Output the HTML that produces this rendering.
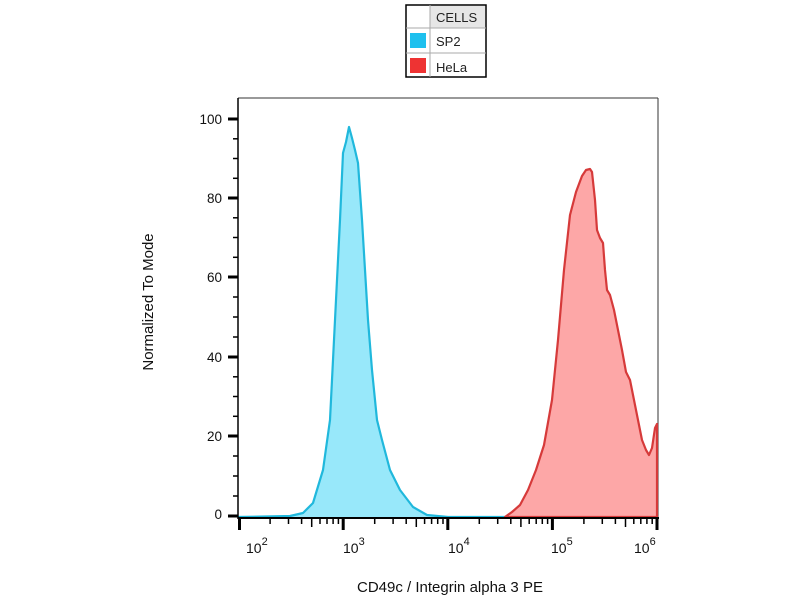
<!DOCTYPE html>
<html><head><meta charset="utf-8"><style>
body{margin:0;background:#fff;}
svg{display:block;font-family:"Liberation Sans",Arial,sans-serif;}
</style></head><body>
<svg width="800" height="600" viewBox="0 0 800 600">
<rect width="800" height="600" fill="#fff"/>
<!-- legend -->
<rect x="406" y="5" width="80" height="72" fill="#fff" stroke="#000" stroke-width="1.5"/>
<rect x="430" y="6" width="55" height="22" fill="#e6e6e6"/>
<line x1="430" y1="5" x2="430" y2="77" stroke="#aaa"/>
<line x1="406" y1="28" x2="486" y2="28" stroke="#aaa"/>
<line x1="406" y1="53" x2="486" y2="53" stroke="#aaa"/>
<text x="436" y="22" font-size="13" fill="#222">CELLS</text>
<rect x="410" y="33" width="16" height="15" fill="#1ec0ee"/>
<text x="436" y="46" font-size="13" fill="#222">SP2</text>
<rect x="410" y="58" width="16" height="15" fill="#ee3333"/>
<text x="436" y="72" font-size="13" fill="#222">HeLa</text>

<!-- plot box -->
<line x1="238" y1="98" x2="658" y2="98" stroke="#333" stroke-width="1"/>
<line x1="658" y1="98" x2="658" y2="518" stroke="#333" stroke-width="1"/>

<!-- blue -->
<path d="M238,517 L290,516 L303,513 L313,503 L323,470 L330,420 L335,320 L340,220 L343,153 L346,142 L349,127 L352,138 L355,150 L358,163 L362,220 L365,270 L368,320 L372,370 L377,420 L382,440 L390,470 L400,490 L413,507 L427,515 L448,517 L658,517 Z" fill="#98e8fa" stroke="none"/>
<path d="M238,517 L290,516 L303,513 L313,503 L323,470 L330,420 L335,320 L340,220 L343,153 L346,142 L349,127 L352,138 L355,150 L358,163 L362,220 L365,270 L368,320 L372,370 L377,420 L382,440 L390,470 L400,490 L413,507 L427,515 L448,517 L505,517" fill="none" stroke="#20b8dc" stroke-width="2.2" stroke-linejoin="round"/>
<!-- red -->
<path d="M505,517 L512,512 L520,505 L528,490 L536,470 L544,445 L552,400 L558,340 L564,270 L570,215 L576,192 L582,176 L586,170 L590,169 L592,172 L595,200 L597,230 L600,238 L603,243 L605,270 L607,290 L610,295 L614,310 L618,330 L622,350 L626,372 L630,380 L634,400 L638,420 L642,440 L646,450 L649,455 L652,448 L655,428 L657,424 L657,517 Z" fill="#fda7a7" stroke="#d63a3a" stroke-width="2.2" stroke-linejoin="round"/>

<!-- axes -->
<line x1="238" y1="98" x2="238" y2="519" stroke="#000" stroke-width="1.5"/>
<line x1="238" y1="518" x2="659" y2="518" stroke="#000" stroke-width="2"/>
<g stroke="#000" stroke-width="3">
<line x1="228" y1="119" x2="238" y2="119"/><line x1="228" y1="198" x2="238" y2="198"/><line x1="228" y1="277" x2="238" y2="277"/><line x1="228" y1="357" x2="238" y2="357"/><line x1="228" y1="436" x2="238" y2="436"/><line x1="228" y1="516" x2="238" y2="516"/>
</g>
<g stroke="#000" stroke-width="1.5">
<line x1="233" y1="138.8" x2="238" y2="138.8"/><line x1="233" y1="158.5" x2="238" y2="158.5"/><line x1="233" y1="178.3" x2="238" y2="178.3"/>
<line x1="233" y1="217.8" x2="238" y2="217.8"/><line x1="233" y1="237.5" x2="238" y2="237.5"/><line x1="233" y1="257.3" x2="238" y2="257.3"/>
<line x1="233" y1="297" x2="238" y2="297"/><line x1="233" y1="317" x2="238" y2="317"/><line x1="233" y1="337" x2="238" y2="337"/>
<line x1="233" y1="376.8" x2="238" y2="376.8"/><line x1="233" y1="396.5" x2="238" y2="396.5"/><line x1="233" y1="416.3" x2="238" y2="416.3"/>
<line x1="233" y1="456" x2="238" y2="456"/><line x1="233" y1="476" x2="238" y2="476"/><line x1="233" y1="496" x2="238" y2="496"/>
</g>
<g font-size="13.5" fill="#111" text-anchor="end">
<text x="222" y="124">100</text><text x="222" y="203">80</text><text x="222" y="282">60</text><text x="222" y="362">40</text><text x="222" y="441">20</text><text x="222" y="519">0</text>
</g>
<!-- x ticks major -->
<g stroke="#000" stroke-width="3">
<line x1="239.5" y1="518" x2="239.5" y2="530"/><line x1="343.2" y1="518" x2="343.2" y2="530"/><line x1="447.8" y1="518" x2="447.8" y2="530"/><line x1="552.4" y1="518" x2="552.4" y2="530"/><line x1="657" y1="518" x2="657" y2="530"/>
</g>
<g stroke="#000" stroke-width="1.5">
<line x1="270.1" y1="518" x2="270.1" y2="524"/><line x1="288.5" y1="518" x2="288.5" y2="524"/><line x1="301.6" y1="518" x2="301.6" y2="524"/><line x1="311.7" y1="518" x2="311.7" y2="527"/><line x1="320" y1="518" x2="320" y2="524"/><line x1="327" y1="518" x2="327" y2="524"/><line x1="333.1" y1="518" x2="333.1" y2="524"/><line x1="338.4" y1="518" x2="338.4" y2="524"/>
<line x1="374.7" y1="518" x2="374.7" y2="524"/><line x1="393.1" y1="518" x2="393.1" y2="524"/><line x1="406.2" y1="518" x2="406.2" y2="524"/><line x1="416.3" y1="518" x2="416.3" y2="527"/><line x1="424.6" y1="518" x2="424.6" y2="524"/><line x1="431.6" y1="518" x2="431.6" y2="524"/><line x1="437.7" y1="518" x2="437.7" y2="524"/><line x1="443" y1="518" x2="443" y2="524"/>
<line x1="479.3" y1="518" x2="479.3" y2="524"/><line x1="497.7" y1="518" x2="497.7" y2="524"/><line x1="510.8" y1="518" x2="510.8" y2="524"/><line x1="520.9" y1="518" x2="520.9" y2="527"/><line x1="529.2" y1="518" x2="529.2" y2="524"/><line x1="536.2" y1="518" x2="536.2" y2="524"/><line x1="542.3" y1="518" x2="542.3" y2="524"/><line x1="547.6" y1="518" x2="547.6" y2="524"/>
<line x1="583.9" y1="518" x2="583.9" y2="524"/><line x1="602.3" y1="518" x2="602.3" y2="524"/><line x1="615.4" y1="518" x2="615.4" y2="524"/><line x1="625.5" y1="518" x2="625.5" y2="527"/><line x1="633.8" y1="518" x2="633.8" y2="524"/><line x1="640.8" y1="518" x2="640.8" y2="524"/><line x1="646.9" y1="518" x2="646.9" y2="524"/><line x1="652.2" y1="518" x2="652.2" y2="524"/>
</g>
<g font-size="14" fill="#111">
<text x="246" y="553">10<tspan font-size="11" dy="-8">2</tspan></text>
<text x="343" y="553">10<tspan font-size="11" dy="-8">3</tspan></text>
<text x="448" y="553">10<tspan font-size="11" dy="-8">4</tspan></text>
<text x="551" y="553">10<tspan font-size="11" dy="-8">5</tspan></text>
<text x="634" y="553">10<tspan font-size="11" dy="-8">6</tspan></text>
</g>
<text x="450" y="592" font-size="15" fill="#111" text-anchor="middle">CD49c / Integrin alpha 3 PE</text>
<text transform="translate(153,302) rotate(-90)" font-size="15" fill="#111" text-anchor="middle">Normalized To Mode</text>
</svg>
</body></html>
